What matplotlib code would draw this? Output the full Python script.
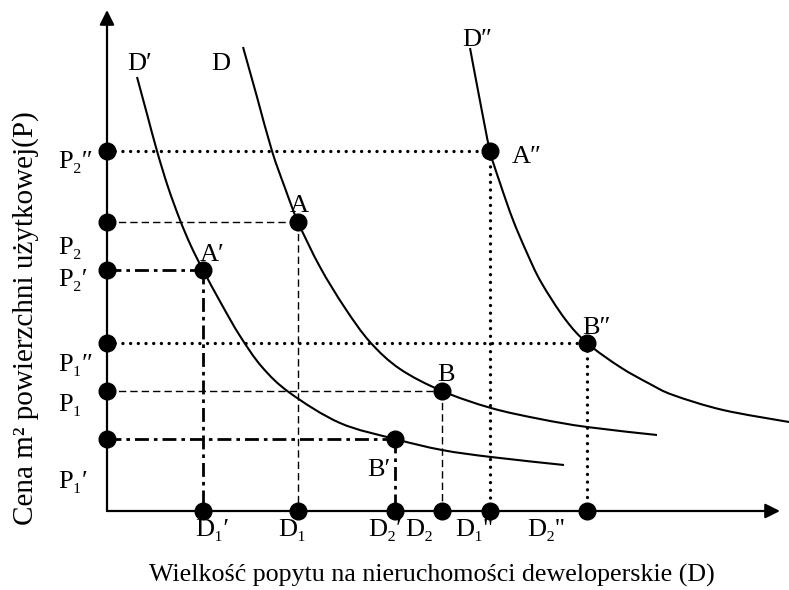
import matplotlib
matplotlib.use("Agg")
import matplotlib.pyplot as plt
from matplotlib.patches import Rectangle, PathPatch
from matplotlib.path import Path

# demand curves (quantity, price)
d1_x = [3.0, 4.0, 5.0, 6.1, 7.3, 8.4, 9.6, 11.5, 13.3, 15.5, 18.3, 23.3, 28.8, 33.5, 38.4, 45.7]
d1_y = [43.4, 39.7, 36.0, 32.4, 29.1, 26.5, 24.1, 20.6, 17.5, 14.4, 11.8, 8.8, 7.2, 6.1, 5.4, 4.6]
d0_x = [13.6, 15.0, 16.5, 17.8, 19.1, 21.3, 23.8, 26.3, 29.3, 33.5, 38.4, 43.3, 48.0, 55.0]
d0_y = [46.4, 41.4, 36.0, 32.3, 28.9, 24.4, 20.3, 16.9, 14.2, 12.0, 10.3, 9.2, 8.4, 7.6]
d2_x = [36.3, 37.3, 38.3, 39.3, 40.6, 42.0, 43.4, 45.8, 48.0, 51.3, 54.3, 56.6, 61.6, 68.2]
d2_y = [46.3, 41.0, 36.0, 32.8, 29.1, 25.8, 22.9, 19.2, 16.8, 14.4, 12.7, 11.6, 10.1, 8.9]

# equilibrium points A/B on each curve
pts_prime = [(9.6, 24.1), (28.8, 7.2)]     # A', B'
pts_base = [(19.1, 28.9), (33.5, 12.0)]    # A, B
pts_dbl = [(38.3, 36.0), (48.0, 16.8)]     # A'', B''

p_labels = ["P\u2082\u2033", "P\u2082", "P\u2082\u2032", "P\u2081\u2033", "P\u2081", "P\u2081\u2032"]
p_values = [36.0, 28.9, 24.1, 16.8, 12.0, 7.2]
d_labels = ["D\u2081\u2032", "D\u2081", "D\u2082\u2032", "D\u2082", "D\u2081''", "D\u2082''"]
d_values = [9.6, 19.1, 28.8, 33.5, 38.3, 48.0]

FONT = ["Liberation Serif", "DejaVu Serif"]
plt.rcParams["font.family"] = FONT


def smooth_path(xs, ys):
    # bezier segments through the read points (catmull-rom style handles)
    pts = list(zip(xs, ys))
    verts = [pts[0]]
    codes = [Path.MOVETO]
    n = len(pts)
    for i in range(n - 1):
        p0 = pts[max(i - 1, 0)]
        p1 = pts[i]
        p2 = pts[i + 1]
        p3 = pts[min(i + 2, n - 1)]
        c1 = (p1[0] + (p2[0] - p0[0]) / 6, p1[1] + (p2[1] - p0[1]) / 6)
        c2 = (p2[0] - (p3[0] - p1[0]) / 6, p2[1] - (p3[1] - p1[1]) / 6)
        verts += [c1, c2, p2]
        codes += [Path.CURVE4] * 3
    return Path(verts, codes)


fig = plt.figure(figsize=(7.89, 5.90), dpi=100)
ax = fig.add_axes([107 / 789, 79 / 590, 682 / 789, 511 / 590])
ax.set_xlim(0, 68.2)
ax.set_ylim(0, 51.1)
ax.axis("off")

# axes with arrows
arr = dict(arrowstyle="-|>", lw=1.6, color="black", mutation_scale=22, shrinkA=0, shrinkB=0)
ax.annotate("", xy=(0, 50.1), xytext=(0, 0), arrowprops=arr, annotation_clip=False)
ax.annotate("", xy=(67.3, 0), xytext=(0, 0), arrowprops=arr, annotation_clip=False)

# demand curves
for xs, ys in [(d1_x, d1_y), (d0_x, d0_y), (d2_x, d2_y)]:
    ax.add_patch(PathPatch(smooth_path(xs, ys), fill=False, edgecolor="black",
                           lw=1.5, clip_on=False))

# guide lines
styles = {
    "prime": dict(color="black", lw=2.0, linestyle=(0, (5, 1.8, 1.3, 1.8))),
    "base": dict(color="black", lw=1.0, linestyle=(0, (5.3, 2.9))),
    "dbl": dict(color="black", lw=2.4, linestyle=(0, (0.01, 2.3)), dash_capstyle="round"),
}
for key, pts in [("prime", pts_prime), ("base", pts_base), ("dbl", pts_dbl)]:
    for x, y in pts:
        ax.plot([0, x], [y, y], **styles[key])
        ax.plot([x, x], [y, 0], **styles[key])

# dots
all_pts = pts_prime + pts_base + pts_dbl
ax.plot([p[0] for p in all_pts], [p[1] for p in all_pts], "o", color="black", ms=12, clip_on=False)
ax.plot([0] * len(p_values), p_values, "o", color="black", ms=12, clip_on=False)
ax.plot(d_values, [0] * len(d_values), "o", color="black", ms=12, clip_on=False)

fs = 19
# price labels on the y axis
p_label_y = [34.9, 26.3, 23.1, 14.6, 10.6, 2.9]
for lab, y in zip(p_labels, p_label_y):
    ax.text(-4.9, y, lab, fontsize=fs, ha="left", va="center", clip_on=False)

# quantity labels on the x axis
d_label_x = [8.8, 17.1, 26.1, 29.8, 34.8, 42.0]
for lab, x in zip(d_labels, d_label_x):
    ax.text(x, -1.9, lab, fontsize=fs, ha="left", va="center", clip_on=False)

# point labels
point_text = [("A\u2032", 9.3, 25.6), ("B\u2032", 26.0, 4.1), ("A", 18.3, 30.5),
              ("B", 33.0, 13.6), ("A\u2033", 40.5, 35.4), ("B\u2033", 47.5, 18.3)]
for lab, x, y in point_text:
    ax.text(x, y, lab, fontsize=fs, ha="left", va="center")

# curve names, cut at the bottom as in the source
curve_text = [("D\u2032", 2.0, 44.7, 44.1), ("D", 10.4, 44.7, 44.1), ("D\u2033", 35.5, 47.1, 46.4)]
for lab, x, y, cut in curve_text:
    t = ax.text(x, y, lab, fontsize=fs, ha="left", va="center", clip_on=True)
    r = Rectangle((x - 2, cut), 10, 10, transform=ax.transData, visible=False)
    ax.add_patch(r)
    t.set_clip_path(r)

ax.text(32.5, -6.4, "Wielkość popytu na nieruchomości deweloperskie (D)",
        fontsize=18.7, ha="center", va="center", clip_on=False)
ax.text(-8.1, 19.3, "Cena m\u00b2 powierzchni użytkowej(P)", fontsize=21,
        rotation=90, ha="center", va="center", clip_on=False)

fig.savefig("out.png", dpi=100)
